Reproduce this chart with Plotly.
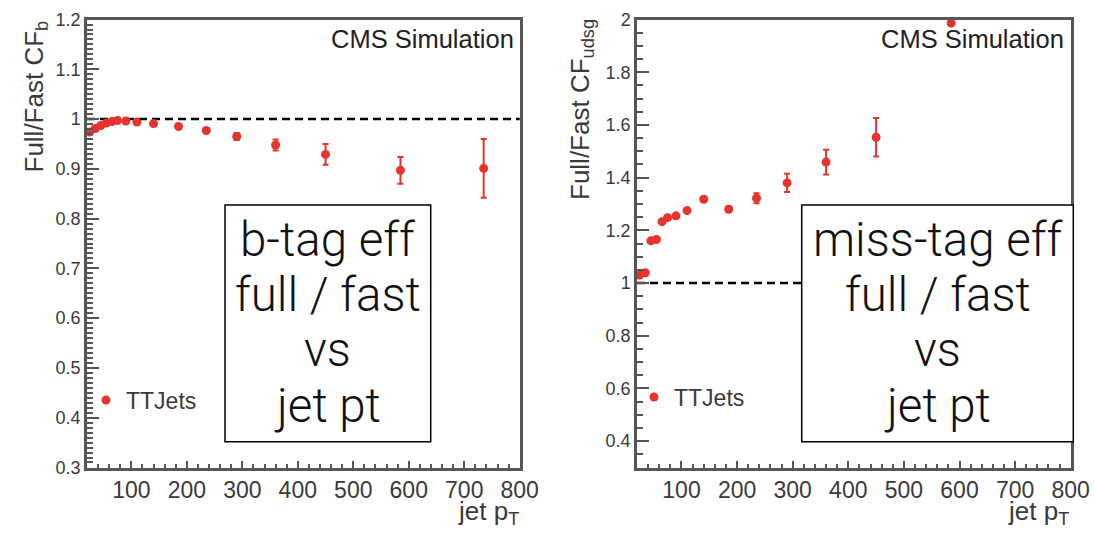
import plotly.graph_objects as go

W, H = 1094, 533

# ---------------- data ----------------
pt_b = [25, 35, 45, 55, 65, 75, 90, 110, 140, 185, 235, 290, 360, 450, 585, 735]
cf_b = [0.974, 0.981, 0.987, 0.992, 0.995, 0.997, 0.996, 0.994, 0.991, 0.985,
        0.977, 0.965, 0.948, 0.929, 0.897, 0.901]
err_b = [0.002, 0.002, 0.002, 0.002, 0.002, 0.002, 0.002, 0.002, 0.002, 0.003,
         0.004, 0.007, 0.011, 0.021, 0.027, 0.059]

pt_l = [25, 35, 45, 55, 65, 75, 90, 110, 140, 185, 235, 290, 360, 450, 585]
cf_l = [1.030, 1.039, 1.160, 1.165, 1.233, 1.248, 1.255, 1.275, 1.318, 1.280,
        1.322, 1.380, 1.459, 1.553, 1.987]
err_l = [0.005, 0.005, 0.006, 0.006, 0.006, 0.006, 0.006, 0.007, 0.008, 0.010,
         0.019, 0.035, 0.047, 0.073, 0.0]

series_name = "TTJets"
box_left = ["b-tag eff", "full / fast", "vs", "jet pt"]
box_right = ["miss-tag eff", "full / fast", "vs", "jet pt"]
ytitle_left = "Full/Fast CF<sub>b</sub>"
ytitle_right = "Full/Fast CF<sub>udsg</sub>"
xtitle = "jet p<sub>T</sub>"
cms_label = "CMS Simulation"

RED = "#e8332c"
AX = "#555555"
TXT = "#3a3a3a"

def px(x):
    return x / W

def py(y):
    return 1 - y / H

fig = go.Figure()

fig.add_trace(go.Scatter(
    x=pt_b, y=cf_b, mode="markers", name=series_name, showlegend=True,
    marker=dict(color=RED, size=9),
    error_y=dict(type="data", array=err_b, color=RED, thickness=2, width=3),
    xaxis="x", yaxis="y", legend="legend",
))
fig.add_trace(go.Scatter(
    x=pt_l, y=cf_l, mode="markers", name=series_name, showlegend=True,
    marker=dict(color=RED, size=9),
    error_y=dict(type="data", array=err_l, color=RED, thickness=2, width=3),
    xaxis="x2", yaxis="y2", legend="legend2",
))

ydom = [py(467.5), py(19.5)]

xcommon = dict(
    range=[20, 800.5], tick0=0, dtick=100, ticks="inside", ticklen=7,
    tickwidth=1.5, tickcolor=AX, showline=True, linecolor=AX, linewidth=2.5,
    mirror=True, showgrid=False, zeroline=False, automargin=False,
    tickfont=dict(family="Liberation Sans", size=23, color=TXT),
    minor=dict(dtick=20, tick0=0, ticks="inside", ticklen=3.5, tickcolor=AX, tickwidth=1.5),
)
ycommon = dict(
    ticks="inside", ticklen=12, tickwidth=1.5, tickcolor=AX,
    showline=True, linecolor=AX, linewidth=2.5, mirror=True,
    showgrid=False, zeroline=False, automargin=False,
    tickfont=dict(family="Liberation Sans", size=18, color=TXT),
)
fig.update_layout(
    xaxis=dict(domain=[px(87), px(520)], anchor="y", **xcommon),
    xaxis2=dict(domain=[px(637), px(1071)], anchor="y2", **xcommon),
    yaxis=dict(
        domain=ydom, anchor="x", range=[0.2999, 1.2001], tick0=0, dtick=0.1,
        minor=dict(dtick=0.01, tick0=0, ticks="inside", ticklen=6, tickcolor=AX, tickwidth=1.5),
        **ycommon,
    ),
    yaxis2=dict(
        domain=ydom, anchor="x2", range=[0.2999, 2.0001], tick0=0, dtick=0.2,
        minor=dict(dtick=0.05, tick0=0, ticks="inside", ticklen=6, tickcolor=AX, tickwidth=1.5),
        **ycommon,
    ),
    width=W, height=H,
    margin=dict(l=0, r=0, t=0, b=0, autoexpand=False),
    paper_bgcolor="white", plot_bgcolor="white",
    showlegend=True,
    legend=dict(x=px(86), y=py(400), xanchor="left", yanchor="middle",
                bgcolor="rgba(0,0,0,0)",
                font=dict(family="Liberation Sans", size=23, color=TXT)),
    legend2=dict(x=px(634), y=py(397), xanchor="left", yanchor="middle",
                 bgcolor="rgba(0,0,0,0)",
                 font=dict(family="Liberation Sans", size=23, color=TXT)),
)

shapes = [
    dict(type="line", xref="x", yref="y", x0=20, x1=800, y0=1, y1=1,
         line=dict(color="black", width=2.5, dash="8px,5px"), layer="below"),
    dict(type="line", xref="x2", yref="y2", x0=20, x1=800, y0=1, y1=1,
         line=dict(color="black", width=2.5, dash="8px,5px"), layer="below"),
    dict(type="rect", xref="paper", yref="paper", x0=px(225), x1=px(430.7),
         y0=py(441.7), y1=py(205), fillcolor="white",
         line=dict(color="black", width=1.5), layer="above"),
    dict(type="rect", xref="paper", yref="paper", x0=px(801.7), x1=px(1073.3),
         y0=py(441.7), y1=py(205), fillcolor="white",
         line=dict(color="black", width=1.5), layer="above"),
]
fig.update_layout(shapes=shapes)

ann = []
line_centers = [240, 295, 350, 406]
box_font = dict(family="Roboto", size=47.5, color="#111", weight=300)
for txt, yc in zip(box_left, line_centers):
    ann.append(dict(text=txt, x=px(327.9), y=py(yc), xref="paper", yref="paper",
                    xanchor="center", yanchor="middle", showarrow=False,
                    font=box_font))
for txt, yc in zip(box_right, line_centers):
    ann.append(dict(text=txt, x=px(937.5), y=py(yc), xref="paper", yref="paper",
                    xanchor="center", yanchor="middle", showarrow=False,
                    font=box_font))

for xr in [516, 1066]:
    ann.append(dict(text=cms_label, x=px(xr), y=py(39), xref="paper", yref="paper",
                    xanchor="right", yanchor="middle", showarrow=False,
                    font=dict(family="Liberation Sans", size=25.5, color="#222")))

ann.append(dict(text=ytitle_left, x=px(16), y=py(19), xref="paper", yref="paper",
                xanchor="left", yanchor="top", textangle=-90, showarrow=False,
                font=dict(family="Liberation Sans", size=26, color=TXT)))
ann.append(dict(text=ytitle_right, x=px(563), y=py(17), xref="paper", yref="paper",
                xanchor="left", yanchor="top", textangle=-90, showarrow=False,
                font=dict(family="Liberation Sans", size=26, color=TXT)))

for xr in [521, 1071]:
    ann.append(dict(text=xtitle, x=px(xr), y=py(494), xref="paper", yref="paper",
                    xanchor="right", yanchor="top", showarrow=False,
                    font=dict(family="Liberation Sans", size=26, color=TXT)))

fig.update_layout(annotations=ann)

fig.write_html("out.html", config={"displayModeBar": False},
               post_script="document.body.style.margin='0';document.body.style.padding='0';")
